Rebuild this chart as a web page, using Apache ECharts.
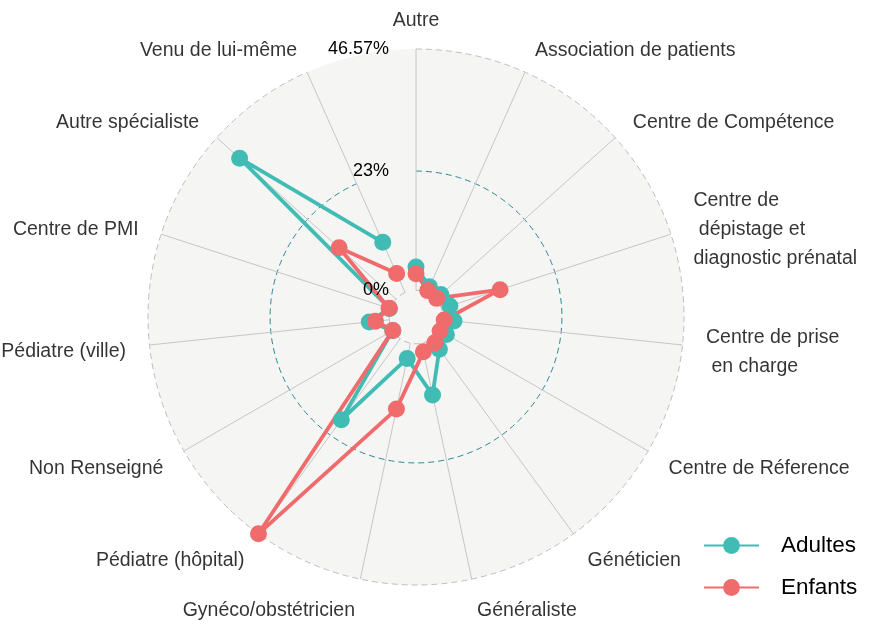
<!DOCTYPE html>
<html>
<head>
<meta charset="utf-8">
<script src="https://cdn.jsdelivr.net/npm/echarts@6/dist/echarts.min.js"></script>
<style>
  html, body { margin: 0; padding: 0; background: #fff; }
  #chart { width: 872px; height: 627px; }
</style>
</head>
<body>
<div id="chart"></div>
<script>
var categories = ['Autre', 'Association de patients', 'Centre de Compétence',
    'Centre de\n dépistage et\ndiagnostic prénatal', 'Centre de prise\n en charge',
    'Centre de Réference', 'Généticien', 'Généraliste', 'Gynéco/obstétricien',
    'Pédiatre (hôpital)', 'Non Renseigné', 'Pédiatre (ville)', 'Centre de PMI',
    'Autre spécialiste', 'Venu de lui-même'];
var adultes = [4.5, 1.2, 1.3, 1.7, 2.2, 1.6, 2.5, 10.2, 3.0, 19.35, 0.0, 3.9, 0.2, 40.65, 10.6];
var enfants = [3.2, 0.4, 0.2, 11.9, 0.3, 0.2, 1.0, 1.7, 13.0, 46.57, 0.0, 2.7, 0.3, 14.8, 4.0];
var gridTicks = [0, 23, 46.57];

var TEAL = '#40BCB4', RED = '#F06B6C';
var FONT = '"Liberation Sans", Arial, sans-serif';
var LABEL_R = 52;
var CENTER = [416, 317];

// closed path: first point repeated at the end
function pathData(vals) {
    var d = vals.map(function (v, i) { return [v, i]; });
    d.push([vals[0], 0]);
    return d;
}
function pointData(vals) {
    return vals.map(function (v, i) { return [v, i]; });
}

var labelData = categories.map(function (c, i) {
    var a = i * 2 * Math.PI / categories.length;
    var s = Math.sin(a);
    var top = Math.abs(s) < 0.02;
    var pos = top ? 'inside' : (s > 0 ? 'right' : 'left');
    return {
        value: [LABEL_R, i],
        label: { position: pos, offset: [-5 * s, top ? 0 : 4] }
    };
});

var hidden = { axisLine: { show: false }, axisTick: { show: false }, axisLabel: { show: false }, splitLine: { show: false } };

var chart = echarts.init(document.getElementById('chart'));
chart.setOption({
    animation: false,
    textStyle: { fontFamily: FONT },
    polar: [
        { center: CENTER, radius: [0, 268] },
        { center: CENTER, radius: [26.8, 268] },
        { center: CENTER, radius: [26.8, 268] }
    ],
    angleAxis: [
        Object.assign({
            polarIndex: 0, type: 'value', min: 0, max: 360, interval: 90, z: 0,
            splitArea: { show: true, areaStyle: { color: ['#F5F5F4'] } }
        }, hidden),
        Object.assign({}, hidden, {
            polarIndex: 1, type: 'category', data: categories, boundaryGap: false,
            startAngle: 90, clockwise: true, z: 1,
            splitLine: { show: true, lineStyle: { color: '#C6C6C6', width: 1 } }
        }),
        Object.assign({ polarIndex: 2, type: 'value', min: 0, max: 360, z: 0 }, hidden)
    ],
    radiusAxis: [
        Object.assign({ polarIndex: 0, type: 'value', min: 0, max: 1 }, hidden),
        Object.assign({}, hidden, {
            polarIndex: 1, type: 'value', min: 0, max: 46.57, z: 1,
            axisTick: { show: false, customValues: gridTicks },
            splitLine: {
                show: true,
                lineStyle: { color: ['#BDBDBD', '#2A8A95', '#BDBDBD'], width: 1, type: [6, 4] }
            }
        }),
        Object.assign({}, hidden, {
            polarIndex: 2, type: 'value', min: 0, max: 46.57, z: 10,
            axisLabel: {
                show: true, customValues: gridTicks, margin: 27, color: '#000', fontSize: 18, fontFamily: FONT,
                formatter: function (v) { return v + '%'; }
            }
        })
    ],
    legend: {
        orient: 'vertical', left: 698, top: 529,
        itemWidth: 55, itemHeight: 21, itemGap: 19,
        data: ['Adultes', 'Enfants'],
        textStyle: { fontSize: 22.5, color: '#000', fontFamily: FONT, padding: [0, 0, 0, 17] }
    },
    series: [
        {
            name: 'Adultes', type: 'line', coordinateSystem: 'polar', polarIndex: 1,
            data: pathData(adultes), symbol: 'circle', showSymbol: false, clip: false,
            color: TEAL, lineStyle: { width: 3.8, color: TEAL }, z: 2
        },
        {
            name: 'Enfants', type: 'line', coordinateSystem: 'polar', polarIndex: 1,
            data: pathData(enfants), symbol: 'circle', showSymbol: false, clip: false,
            color: RED, lineStyle: { width: 3.8, color: RED }, z: 3
        },
        {
            name: 'Adultes', type: 'scatter', coordinateSystem: 'polar', polarIndex: 1,
            data: pointData(adultes), symbol: 'circle', symbolSize: 17, clip: false,
            itemStyle: { color: TEAL, opacity: 1 }, z: 4
        },
        {
            name: 'Enfants', type: 'scatter', coordinateSystem: 'polar', polarIndex: 1,
            data: pointData(enfants), symbol: 'circle', symbolSize: 17, clip: false,
            itemStyle: { color: RED, opacity: 1 }, z: 5
        },
        {
            name: 'labels', type: 'scatter', coordinateSystem: 'polar', polarIndex: 1,
            data: labelData, symbolSize: 1, clip: false, silent: true,
            itemStyle: { color: 'transparent' }, z: 6,
            label: {
                show: true, distance: 0, color: '#000', fontSize: 19.5, fontFamily: FONT,
                lineHeight: 29,
                formatter: function (p) { return categories[p.value[1]]; }
            }
        }
    ]
});
</script>
</body>
</html>
